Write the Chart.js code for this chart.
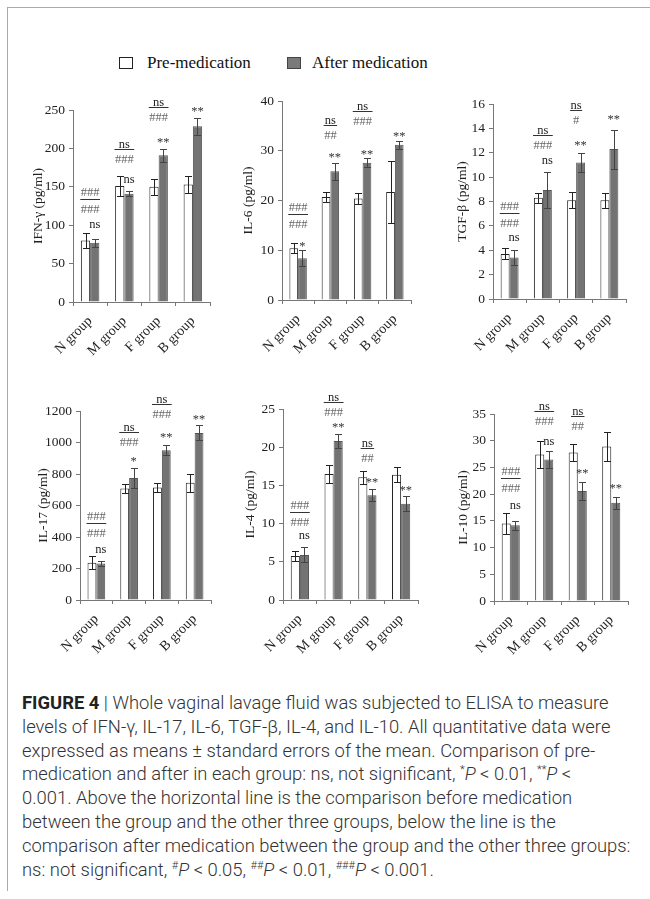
<!DOCTYPE html>
<html>
<head>
<meta charset="utf-8">
<script src="https://cdn.jsdelivr.net/npm/chart.js@4.4.0/dist/chart.umd.min.js"></script>
<style>
body { margin: 0; background: #fff; }
#page { position: relative; width: 650px; height: 899px; overflow: hidden; background: #fff; }
#frame { position: absolute; left: 7px; top: 7px; width: 700px; height: 883px; border-left: 1px solid #aaa; border-top: 1px solid #aaa; }
.panel { position: absolute; }
.lg-box { position: absolute; width: 12px; height: 10px; border: 1px solid #222; }
.lg-text { position: absolute; font-family: 'Liberation Serif', 'Times New Roman', serif; font-size: 17px; color: #111; line-height: 20px; }
#caption { position: absolute; left: 22px; top: 691px; font-family: Roboto, 'Liberation Sans', sans-serif; font-weight: 300; font-size: 18.4px; line-height: 23.8px; color: #333; white-space: nowrap; }
#caption b { font-weight: 700; color: #222; }
#caption sup { font-size: 11px; line-height: 0; }
</style>
</head>
<body>
<div id="page">
  <div id="frame"></div>
  <div class="lg-box" style="left:119px;top:57px;background:#fff;"></div>
  <div class="lg-text" style="left:147px;top:53px;">Pre-medication</div>
  <div class="lg-box" style="left:287px;top:57px;background:#7a7a7a;border-color:#444;"></div>
  <div class="lg-text" style="left:312px;top:53px;">After medication</div>

  <div class="panel" id="p1"><canvas id="c1"></canvas></div>
  <div class="panel" id="p2"><canvas id="c2"></canvas></div>
  <div class="panel" id="p3"><canvas id="c3"></canvas></div>
  <div class="panel" id="p4"><canvas id="c4"></canvas></div>
  <div class="panel" id="p5"><canvas id="c5"></canvas></div>
  <div class="panel" id="p6"><canvas id="c6"></canvas></div>

  <div id="caption">
    <b>FIGURE 4</b> | Whole vaginal lavage fluid was subjected to ELISA to measure<br>
    levels of IFN-γ, IL-17, IL-6, TGF-β, IL-4, and IL-10. All quantitative data were<br>
    expressed as means ± standard errors of the mean. Comparison of pre-<br>
    medication and after in each group: ns, not significant, <sup>*</sup><i>P</i> &lt; 0.01, <sup>**</sup><i>P</i> &lt;<br>
    0.001. Above the horizontal line is the comparison before medication<br>
    between the group and the other three groups, below the line is the<br>
    comparison after medication between the group and the other three groups:<br>
    ns: not significant, <sup>#</sup><i>P</i> &lt; 0.05, <sup>##</sup><i>P</i> &lt; 0.01, <sup>###</sup><i>P</i> &lt; 0.001.
  </div>
</div>
<script>
var groups = ['N group', 'M group', 'F group', 'B group'];

// IFN-gamma
var ifnTicks = [0, 50, 100, 150, 200, 250];
var ifnPre = [80, 151, 150, 153];
var ifnPreErr = [10, 12.5, 10.5, 11];
var ifnAfter = [77, 141, 191, 229];
var ifnAfterErr = [5.5, 3, 8.5, 11];
var ifnLine = [134, 198.7, 253.5, null];
var ifnAbove = ['###', 'ns', 'ns', ''];
var ifnBelow = ['###', '###', '###', ''];
var ifnStar = ['ns', 'ns', '**', '**'];
var ifnStarAt = [100, 159, 212, 252];

// IL-6
var il6Ticks = [0, 10, 20, 30, 40];
var il6Pre = [10.4, 20.7, 20.4, 21.7];
var il6PreErr = [1.0, 1.05, 1.05, 6.15];
var il6After = [8.4, 25.9, 27.6, 31.2];
var il6AfterErr = [1.6, 1.7, 0.95, 0.85];
var il6Line = [17.3, 35.25, 38.0, null];
var il6Above = ['###', 'ns', 'ns', ''];
var il6Below = ['###', '##', '###', ''];
var il6Star = ['*', '**', '**', '**'];
var il6StarAt = [11.4, 29.3, 29.9, 33.6];

// TGF-beta
var tgfTicks = [0, 2, 4, 6, 8, 10, 12, 14, 16];
var tgfPre = [3.7, 8.3, 8.1, 8.1];
var tgfPreErr = [0.45, 0.4, 0.65, 0.6];
var tgfAfter = [3.4, 8.95, 11.2, 12.3];
var tgfAfterErr = [0.65, 1.45, 0.75, 1.6];
var tgfLine = [7.04, 13.42, 15.48, null];
var tgfAbove = ['###', 'ns', 'ns', ''];
var tgfBelow = ['###', '###', '#', ''];
var tgfStar = ['ns', 'ns', '**', '**'];
var tgfStarAt = [5.0, 11.3, 12.9, 15.0];

// IL-17
var il17Ticks = [0, 200, 400, 600, 800, 1000, 1200];
var il17Pre = [237, 708, 714, 744];
var il17PreErr = [42, 28, 29, 58];
var il17After = [232, 775, 951, 1061];
var il17AfterErr = [16, 65, 32, 48];
var il17Line = [486, 1067, 1247, null];
var il17Above = ['###', 'ns', 'ns', ''];
var il17Below = ['###', '###', '###', ''];
var il17Star = ['ns', '*', '**', '**'];
var il17StarAt = [317, 904, 1056, 1168];

// IL-4
var il4Ticks = [0, 5, 10, 15, 20, 25];
var il4Pre = [5.76, 16.5, 16.06, 16.4];
var il4PreErr = [0.65, 1.2, 0.85, 1.0];
var il4After = [5.9, 20.8, 13.7, 12.6];
var il4AfterErr = [0.98, 0.9, 0.8, 0.95];
var il4Line = [11.56, 25.96, 19.85, null];
var il4Above = ['###', 'ns', 'ns', ''];
var il4Below = ['###', '###', '##', ''];
var il4Star = ['ns', '**', '**', '**'];
var il4StarAt = [8.4, 23.1, 15.8, 14.75];

// IL-10
var il10Ticks = [0, 5, 10, 15, 20, 25, 30, 35];
var il10Pre = [14.5, 27.4, 27.8, 28.9];
var il10PreErr = [1.9, 2.6, 1.6, 2.7];
var il10After = [14.2, 26.5, 20.6, 18.4];
var il10AfterErr = [0.85, 1.65, 1.65, 1.1];
var il10Line = [22.94, 35.6, 34.7, null];
var il10Above = ['###', 'ns', 'ns', ''];
var il10Below = ['###', '###', '##', ''];
var il10Star = ['ns', 'ns', '**', '**'];
var il10StarAt = [17.75, 29.7, 24.5, 21.7];

var serif = "'Liberation Serif', 'Times New Roman', serif";
Chart.defaults.font.family = serif;
Chart.defaults.color = '#222';

// whiskers drawn from the errors array of each dataset
var errorBars = {
    id: 'errorBars',
    afterDatasetsDraw: function (chart) {
        var ctx = chart.ctx;
        var y = chart.scales.y;
        chart.data.datasets.forEach(function (ds, di) {
            chart.getDatasetMeta(di).data.forEach(function (bar, i) {
                var x = Math.round(bar.x) + 0.5;
                var top = Math.round(y.getPixelForValue(ds.data[i] + ds.errors[i])) + 0.5;
                var bot = Math.round(y.getPixelForValue(ds.data[i] - ds.errors[i])) + 0.5;
                ctx.save();
                ctx.strokeStyle = ds.errColor;
                ctx.lineWidth = 1;
                ctx.beginPath();
                ctx.moveTo(x, top); ctx.lineTo(x, bot);
                ctx.moveTo(x - 3.5, top); ctx.lineTo(x + 3.5, top);
                ctx.moveTo(x - 3.5, bot); ctx.lineTo(x + 3.5, bot);
                ctx.stroke();
                ctx.restore();
            });
        });
    }
};

// significance marks: ns / # above-below a short line, and stars over the after bar
var sigMarks = {
    id: 'sigMarks',
    afterDraw: function (chart, args, opts) {
        var ctx = chart.ctx;
        var xs = chart.scales.x, ys = chart.scales.y;
        var after = chart.getDatasetMeta(1).data;
        ctx.save();
        for (var i = 0; i < groups.length; i++) {
            if (opts.line[i] != null) {
                var cx = xs.getPixelForValue(i);
                var ly = Math.round(ys.getPixelForValue(opts.line[i])) + 0.5;
                ctx.font = '12.5px ' + serif;
                var w = Math.max(ctx.measureText(opts.above[i]).width, ctx.measureText(opts.below[i]).width) + 1;
                ctx.strokeStyle = '#333';
                ctx.lineWidth = 1;
                ctx.beginPath();
                ctx.moveTo(cx - w / 2, ly); ctx.lineTo(cx + w / 2, ly);
                ctx.stroke();
                ctx.textAlign = 'center';
                ctx.textBaseline = 'alphabetic';
                ctx.fillStyle = opts.above[i].charAt(0) === '#' ? '#666' : '#222';
                ctx.fillText(opts.above[i], cx, ly - (opts.above[i].charAt(0) === '#' ? 4 : 2));
                ctx.fillStyle = '#666';
                ctx.fillText(opts.below[i], cx, ly + 13);
            }
            var sx = after[i].x;
            var sy = ys.getPixelForValue(opts.starAt[i]);
            var isStar = opts.star[i].charAt(0) === '*';
            ctx.font = '12.5px ' + serif;
            ctx.fillStyle = isStar ? '#333' : '#222';
            ctx.textAlign = 'center';
            ctx.textBaseline = 'alphabetic';
            ctx.fillText(opts.star[i], sx, sy + (isStar ? 7 : 3));
        }
        ctx.restore();
    }
};

function drawPanel(id, box, title, ticks, pre, preErr, aft, aftErr, line, above, below, star, starAt) {
    var left = box.titleX - 12;
    var top = box.area[1] - 45;
    var width = box.area[2] - left + 14;
    var height = box.area[3] - top + 78;
    var holder = document.getElementById('p' + id);
    holder.style.left = left + 'px';
    holder.style.top = top + 'px';
    holder.style.width = width + 'px';
    holder.style.height = height + 'px';
    var yWidth = box.area[0] - left;

    new Chart(document.getElementById('c' + id), {
        type: 'bar',
        data: {
            labels: groups,
            datasets: [{
                label: 'Pre-medication',
                data: pre,
                errors: preErr,
                errColor: '#222',
                backgroundColor: '#ffffff',
                borderColor: '#222',
                borderWidth: 1,
                categoryPercentage: 0.54,
                barPercentage: 1.0
            }, {
                label: 'After medication',
                data: aft,
                errors: aftErr,
                errColor: '#444',
                backgroundColor: '#737373',
                borderColor: '#555',
                borderWidth: 1,
                categoryPercentage: 0.54,
                barPercentage: 1.0
            }]
        },
        options: {
            responsive: true,
            maintainAspectRatio: false,
            animation: false,
            layout: { padding: { top: 45, right: 14, left: 0, bottom: 0 } },
            plugins: {
                legend: { display: false },
                tooltip: { enabled: false },
                sigMarks: { line: line, above: above, below: below, star: star, starAt: starAt }
            },
            scales: {
                x: {
                    grid: { display: true, drawOnChartArea: false, drawTicks: true, tickLength: 4, color: '#777', offset: true },
                    border: { display: true, color: '#777' },
                    ticks: { font: { family: serif, size: 14 }, color: '#222', maxRotation: 45, minRotation: 45, padding: 7 },
                    afterFit: function (s) { s.height = 78; }
                },
                y: {
                    min: ticks[0],
                    max: ticks[ticks.length - 1],
                    grid: { display: true, drawOnChartArea: false, drawTicks: true, tickLength: 4, color: '#777' },
                    border: { display: true, color: '#777' },
                    ticks: {
                        stepSize: ticks[1] - ticks[0],
                        font: { family: serif, size: 13.5 },
                        color: '#222',
                        padding: 4,
                        callback: function (v) { return String(v); }
                    },
                    title: { display: true, text: title, font: { family: serif, size: 13.5 }, color: '#222' },
                    afterFit: function (s) { s.width = yWidth; }
                }
            }
        },
        plugins: [errorBars, sigMarks]
    });
}

drawPanel(1, { area: [73, 110, 210, 302], titleX: 38 }, 'IFN-γ (pg/ml)', ifnTicks, ifnPre, ifnPreErr, ifnAfter, ifnAfterErr, ifnLine, ifnAbove, ifnBelow, ifnStar, ifnStarAt);
drawPanel(2, { area: [282, 101, 411, 300], titleX: 248 }, 'IL-6 (pg/ml)', il6Ticks, il6Pre, il6PreErr, il6After, il6AfterErr, il6Line, il6Above, il6Below, il6Star, il6StarAt);
drawPanel(3, { area: [493, 104, 626, 299], titleX: 462 }, 'TGF-β (pg/ml)', tgfTicks, tgfPre, tgfPreErr, tgfAfter, tgfAfterErr, tgfLine, tgfAbove, tgfBelow, tgfStar, tgfStarAt);
drawPanel(4, { area: [80, 411, 211, 600], titleX: 43 }, 'IL-17 (pg/ml)', il17Ticks, il17Pre, il17PreErr, il17After, il17AfterErr, il17Line, il17Above, il17Below, il17Star, il17StarAt);
drawPanel(5, { area: [283, 409, 418, 600], titleX: 250 }, 'IL-4 (pg/ml)', il4Ticks, il4Pre, il4PreErr, il4After, il4AfterErr, il4Line, il4Above, il4Below, il4Star, il4StarAt);
drawPanel(6, { area: [494, 414, 628, 601], titleX: 463 }, 'IL-10 (pg/ml)', il10Ticks, il10Pre, il10PreErr, il10After, il10AfterErr, il10Line, il10Above, il10Below, il10Star, il10StarAt);
</script>
</body>
</html>
